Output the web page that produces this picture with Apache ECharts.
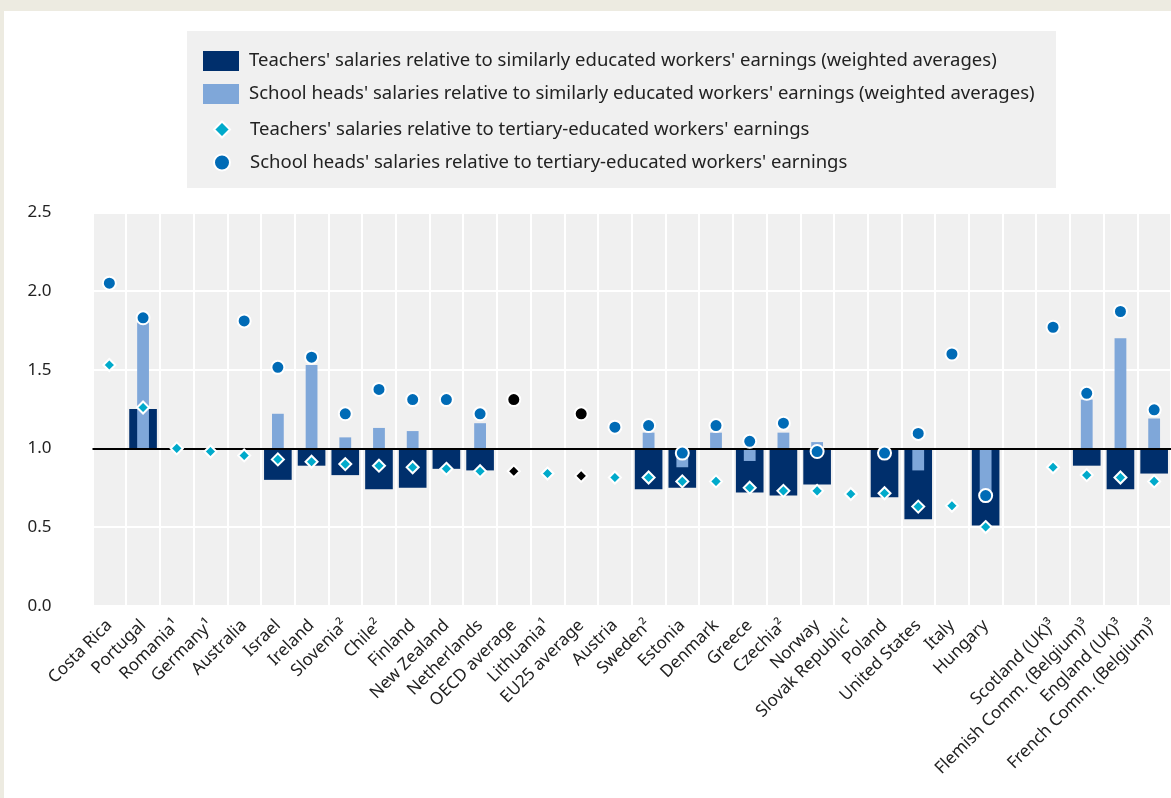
<!DOCTYPE html>
<html>
<head>
<meta charset="utf-8">
<script src="https://cdn.jsdelivr.net/npm/echarts@6/dist/echarts.min.js"></script>
<style>
  html, body { margin: 0; padding: 0; width: 1171px; height: 798px; overflow: hidden; background: #EDEBE1; }
  #chart { position: absolute; left: 4px; top: 11px; width: 1167px; height: 787px; background: #ffffff; }
</style>
</head>
<body>
<div id="chart"></div>
<script>
// Countries / economies (the blank slot separates the UK and Belgian sub-national entities)
const categories = [
  'Costa Rica', 'Portugal', 'Romania¹', 'Germany¹', 'Australia', 'Israel', 'Ireland',
  'Slovenia²', 'Chile²', 'Finland', 'New Zealand', 'Netherlands', 'OECD average',
  'Lithuania¹', 'EU25 average', 'Austria', 'Sweden²', 'Estonia', 'Denmark', 'Greece',
  'Czechia²', 'Norway', 'Slovak Republic¹', 'Poland', 'United States', 'Italy', 'Hungary',
  '', 'Scotland (UK)³', 'Flemish Comm. (Belgium)³', 'England (UK)³', 'French Comm. (Belgium)³'
];

const averageNames = ['OECD average', 'EU25 average'];

// Teachers' salaries relative to similarly educated workers' earnings (weighted averages)
const teachersSimilar = [
  null, 1.25, null, null, null, 0.80, 0.89,
  0.83, 0.74, 0.75, 0.87, 0.86, null,
  null, null, null, 0.74, 0.75, null, 0.72,
  0.70, 0.77, null, 0.69, 0.55, null, 0.51,
  null, null, 0.89, 0.74, 0.84
];

// School heads' salaries relative to similarly educated workers' earnings (weighted averages)
const headsSimilar = [
  null, 1.81, null, null, null, 1.22, 1.53,
  1.07, 1.13, 1.11, null, 1.16, null,
  null, null, null, 1.10, 0.88, 1.10, 0.92,
  1.10, 1.04, null, null, 0.86, null, 0.73,
  null, null, 1.31, 1.70, 1.19
];

// Teachers' salaries relative to tertiary-educated workers' earnings
const teachersTertiary = [
  1.53, 1.26, 1.00, 0.98, 0.955, 0.93, 0.915,
  0.90, 0.89, 0.88, 0.87, 0.855, 0.855,
  0.84, 0.825, 0.815, 0.815, 0.79, 0.79, 0.75,
  0.73, 0.73, 0.71, 0.715, 0.63, 0.635, 0.50,
  null, 0.88, 0.83, 0.815, 0.79
];

// School heads' salaries relative to tertiary-educated workers' earnings
const headsTertiary = [
  2.05, 1.83, null, null, 1.81, 1.515, 1.58,
  1.22, 1.375, 1.31, 1.31, 1.22, 1.31,
  null, 1.22, 1.135, 1.145, 0.97, 1.145, 1.045,
  1.16, 0.98, null, 0.97, 1.095, 1.60, 0.70,
  null, 1.77, 1.35, 1.87, 1.245
];

const yTicks = { min: 0, max: 2.5, interval: 0.5 };
const BASELINE = 1; // bars grow from parity (ratio = 1)

const seriesNames = [
  "Teachers' salaries relative to similarly educated workers' earnings (weighted averages)",
  "School heads' salaries relative to similarly educated workers' earnings (weighted averages)",
  "Teachers' salaries relative to tertiary-educated workers' earnings",
  "School heads' salaries relative to tertiary-educated workers' earnings"
];

const FONT = "'Noto Sans', 'DejaVu Sans', sans-serif";
const C_DARK = '#002F6C';
const C_LIGHT = '#7FA7D9';
const C_DIAMOND = '#00AACB';
const C_CIRCLE = '#006BB6';

// Floating bar drawn from the baseline to the value
function floatingBars(name, values, color, widthFrac, z) {
  return {
    type: 'custom',
    name: name,
    z: z,
    itemStyle: { color: color },
    encode: { x: 0, y: 1 },
    data: values.map((v, i) => [i, v]).filter(d => d[1] != null),
    renderItem: function (params, api) {
      const i = api.value(0);
      const v = api.value(1);
      const p0 = api.coord([i, BASELINE]);
      const p1 = api.coord([i, v]);
      const w = api.size([1, 0])[0] * widthFrac;
      return {
        type: 'rect',
        shape: { x: p0[0] - w / 2, y: Math.min(p0[1], p1[1]), width: w, height: Math.abs(p1[1] - p0[1]) },
        style: { fill: color }
      };
    }
  };
}

function markerData(values) {
  return values.map((v, i) => {
    if (v == null) return '-';
    if (averageNames.includes(categories[i])) return { value: v, itemStyle: { color: '#000000' } };
    return v;
  });
}

const legendText = { fontSize: 18.5, lineHeight: 20, color: '#222', fontFamily: FONT };

const chart = echarts.init(document.getElementById('chart'));

chart.setOption({
  animation: false,
  textStyle: { fontFamily: FONT },
  graphic: [{
    type: 'rect', left: 183, top: 20, silent: true, z: -10,
    shape: { width: 869, height: 157 },
    style: { fill: '#F0F0F0' }
  }],
  legend: [{
    orient: 'vertical', left: 199, top: 40, padding: 0,
    itemWidth: 36, itemHeight: 20, itemGap: 13, icon: 'rect',
    selectedMode: false,
    textStyle: Object.assign({ padding: [0, 0, 0, 5] }, legendText),
    data: [seriesNames[0], seriesNames[1]]
  }, {
    orient: 'vertical', left: 209, top: 108.5, padding: 0,
    itemWidth: 16, itemHeight: 16, itemGap: 13,
    selectedMode: false,
    textStyle: Object.assign({ padding: [0, 0, 0, 15] }, legendText),
    data: [seriesNames[2], seriesNames[3]]
  }],
  grid: {
    left: 88.5, top: 201.4, width: 1091.2, height: 393.3,
    show: true, backgroundColor: '#F0F0F0', borderWidth: 0
  },
  xAxis: {
    type: 'category',
    data: categories,
    axisLine: { show: false },
    axisTick: { show: false },
    splitLine: { show: true, interval: 0, lineStyle: { color: '#ffffff', width: 2 } },
    axisLabel: { interval: 0, rotate: 45, fontSize: 17, color: '#222', margin: 17, fontFamily: FONT }
  },
  yAxis: {
    type: 'value',
    min: yTicks.min, max: yTicks.max, interval: yTicks.interval,
    axisLine: { show: false },
    axisTick: { show: false },
    splitLine: { show: true, lineStyle: { color: '#ffffff', width: 2 } },
    axisLabel: { fontSize: 17, color: '#222', margin: 41, fontFamily: FONT, formatter: v => v.toFixed(1) }
  },
  series: [
    floatingBars(seriesNames[0], teachersSimilar, C_DARK, 0.82, 2),
    floatingBars(seriesNames[1], headsSimilar, C_LIGHT, 0.35, 3),
    {
      type: 'scatter',
      name: seriesNames[2],
      symbol: 'diamond',
      symbolSize: 12,
      z: 6,
      itemStyle: { color: C_DIAMOND, borderColor: '#ffffff', borderWidth: 2, opacity: 1 },
      emphasis: { disabled: true },
      data: markerData(teachersTertiary),
      markLine: {
        silent: true,
        symbol: 'none',
        label: { show: false },
        lineStyle: { color: '#000000', width: 2, type: 'solid' },
        emphasis: { disabled: true },
        data: [{ yAxis: BASELINE }]
      }
    },
    {
      type: 'scatter',
      name: seriesNames[3],
      symbol: 'circle',
      symbolSize: 13,
      z: 7,
      itemStyle: { color: C_CIRCLE, borderColor: '#ffffff', borderWidth: 2, opacity: 1 },
      emphasis: { disabled: true },
      data: markerData(headsTertiary)
    }
  ]
});
</script>
</body>
</html>
